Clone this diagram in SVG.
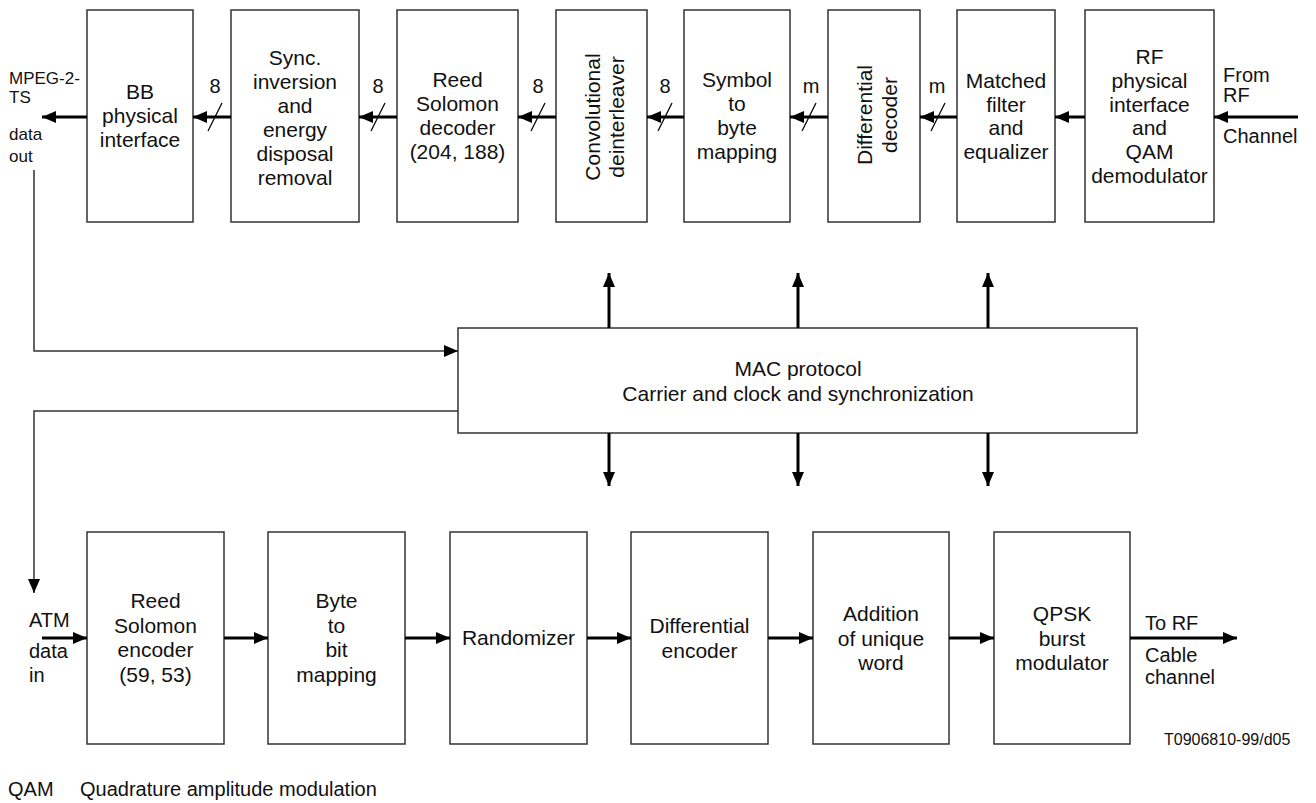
<svg xmlns="http://www.w3.org/2000/svg" width="1316" height="803" viewBox="0 0 1316 803">
<defs>
<marker id="ah" markerUnits="userSpaceOnUse" markerWidth="14" markerHeight="12" refX="14" refY="6" orient="auto">
<path d="M0,0 L14,6 L0,12 z" fill="#000"/>
</marker>
<style>
.box{fill:#fff;stroke:#333;stroke-width:1.5}
.t{font-family:"Liberation Sans",Arial,sans-serif;font-size:21px;fill:#111;text-anchor:middle}
.s{font-family:"Liberation Sans",Arial,sans-serif;font-size:17px;fill:#111}
.l{font-family:"Liberation Sans",Arial,sans-serif;font-size:20px;fill:#111}
.n{font-family:"Liberation Sans",Arial,sans-serif;font-size:20px;fill:#111;text-anchor:middle}
.a{stroke:#000;stroke-width:3;fill:none;marker-end:url(#ah)}
.w{stroke:#333;stroke-width:1.5;fill:none}
.wa{stroke:#333;stroke-width:1.5;fill:none;marker-end:url(#ah)}
.sl{stroke:#000;stroke-width:1.3}
</style>
</defs>
<rect width="1316" height="803" fill="#fff"/>

<g id="bb"><rect class="box" x="87" y="10" width="106" height="212"/>
<text class="t" x="140" y="99">BB</text><text class="t" x="140" y="123">physical</text><text class="t" x="140" y="147">interface</text></g>

<g id="sync"><rect class="box" x="231" y="10" width="128" height="212"/>
<text class="t" x="295" y="65">Sync.</text><text class="t" x="295" y="89">inversion</text><text class="t" x="295" y="113">and</text><text class="t" x="295" y="137">energy</text><text class="t" x="295" y="161">disposal</text><text class="t" x="295" y="185">removal</text></g>

<g id="rsdec"><rect class="box" x="397" y="10" width="121" height="212"/>
<text class="t" x="457.5" y="87">Reed</text><text class="t" x="457.5" y="111">Solomon</text><text class="t" x="457.5" y="135">decoder</text><text class="t" x="457.5" y="159">(204, 188)</text></g>

<g id="conv"><rect class="box" x="556" y="10" width="91" height="212"/>
<text class="t" transform="translate(600,117) rotate(-90)">Convolutional</text>
<text class="t" transform="translate(624,117) rotate(-90)">deinterleaver</text></g>

<g id="symbol"><rect class="box" x="684" y="10" width="106" height="212"/>
<text class="t" x="737" y="87">Symbol</text><text class="t" x="737" y="111">to</text><text class="t" x="737" y="135">byte</text><text class="t" x="737" y="159">mapping</text></g>

<g id="diffdec"><rect class="box" x="828" y="10" width="92" height="212"/>
<text class="t" transform="translate(872,115) rotate(-90)">Differential</text>
<text class="t" transform="translate(897,115) rotate(-90)">decoder</text></g>

<g id="matched"><rect class="box" x="957" y="10" width="98" height="212"/>
<text class="t" x="1006" y="88">Matched</text><text class="t" x="1006" y="112">filter</text><text class="t" x="1006" y="135">and</text><text class="t" x="1006" y="159">equalizer</text></g>

<g id="rf"><rect class="box" x="1085" y="10" width="129" height="212"/>
<text class="t" x="1149.5" y="64">RF</text><text class="t" x="1149.5" y="88">physical</text><text class="t" x="1149.5" y="112">interface</text><text class="t" x="1149.5" y="135">and</text><text class="t" x="1149.5" y="159">QAM</text><text class="t" x="1149.5" y="183">demodulator</text></g>

<g id="mac"><rect class="box" x="458" y="328" width="679" height="105"/>
<text class="t" x="798" y="376">MAC protocol</text><text class="t" x="798" y="401">Carrier and clock and synchronization</text></g>

<g id="rsenc"><rect class="box" x="87" y="532" width="137" height="212"/>
<text class="t" x="155.5" y="608">Reed</text><text class="t" x="155.5" y="633">Solomon</text><text class="t" x="155.5" y="657">encoder</text><text class="t" x="155.5" y="682">(59, 53)</text></g>

<g id="bytebit"><rect class="box" x="268" y="532" width="137" height="212"/>
<text class="t" x="336.5" y="608">Byte</text><text class="t" x="336.5" y="633">to</text><text class="t" x="336.5" y="657">bit</text><text class="t" x="336.5" y="682">mapping</text></g>

<g id="rand"><rect class="box" x="450" y="532" width="137" height="212"/>
<text class="t" x="518.5" y="645">Randomizer</text></g>

<g id="diffenc"><rect class="box" x="631" y="532" width="137" height="212"/>
<text class="t" x="699.5" y="633">Differential</text><text class="t" x="699.5" y="658">encoder</text></g>

<g id="addition"><rect class="box" x="813" y="532" width="136" height="212"/>
<text class="t" x="881" y="621">Addition</text><text class="t" x="881" y="646">of unique</text><text class="t" x="881" y="670">word</text></g>

<g id="qpsk"><rect class="box" x="994" y="532" width="136" height="212"/>
<text class="t" x="1062" y="621">QPSK</text><text class="t" x="1062" y="646">burst</text><text class="t" x="1062" y="670">modulator</text></g>

<g id="connectors">
<line class="a" x1="87" y1="117" x2="42" y2="117"/>
<line class="a" x1="231" y1="117" x2="193" y2="117"/>
<line class="a" x1="397" y1="117" x2="359" y2="117"/>
<line class="a" x1="556" y1="117" x2="518" y2="117"/>
<line class="a" x1="684" y1="117" x2="647" y2="117"/>
<line class="a" x1="828" y1="117" x2="790" y2="117"/>
<line class="a" x1="957" y1="117" x2="920" y2="117"/>
<line class="a" x1="1085" y1="117" x2="1055" y2="117"/>
<line class="a" x1="1298" y1="117" x2="1214" y2="117"/>
<line class="sl" x1="208" y1="131" x2="222" y2="103"/>
<line class="sl" x1="371" y1="131" x2="385" y2="103"/>
<line class="sl" x1="531" y1="131" x2="545" y2="103"/>
<line class="sl" x1="658" y1="131" x2="672" y2="103"/>
<line class="sl" x1="802" y1="131" x2="816" y2="103"/>
<line class="sl" x1="931" y1="131" x2="945" y2="103"/>
<polyline class="wa" points="34,170 34,351 458,351"/>
<polyline class="wa" points="458,411 34,411 34,593"/>
<line class="a" x1="609" y1="328" x2="609" y2="273"/>
<line class="a" x1="798" y1="328" x2="798" y2="273"/>
<line class="a" x1="988" y1="328" x2="988" y2="273"/>
<line class="a" x1="609" y1="433" x2="609" y2="486"/>
<line class="a" x1="798" y1="433" x2="798" y2="486"/>
<line class="a" x1="988" y1="433" x2="988" y2="486"/>
<line class="a" x1="42" y1="638" x2="87" y2="638"/>
<line class="a" x1="224" y1="638" x2="268" y2="638"/>
<line class="a" x1="405" y1="638" x2="450" y2="638"/>
<line class="a" x1="587" y1="638" x2="631" y2="638"/>
<line class="a" x1="768" y1="638" x2="813" y2="638"/>
<line class="a" x1="949" y1="638" x2="994" y2="638"/>
<line class="a" x1="1130" y1="638" x2="1237" y2="638"/>
</g>

<g id="labels">
<text class="n" x="215" y="93">8</text>
<text class="n" x="378" y="93">8</text>
<text class="n" x="538" y="93">8</text>
<text class="n" x="665" y="93">8</text>
<text class="n" x="811" y="93">m</text>
<text class="n" x="937" y="93">m</text>
<text class="s" x="9" y="84">MPEG-2-</text>
<text class="s" x="9" y="103">TS</text>
<text class="s" x="9" y="140">data</text>
<text class="s" x="9" y="162">out</text>
<text class="l" x="1223" y="82">From</text>
<text class="l" x="1223" y="102">RF</text>
<text class="l" x="1223" y="143">Channel</text>
<text class="l" x="29" y="627">ATM</text>
<text class="l" x="29" y="658">data</text>
<text class="l" x="29" y="682">in</text>
<text class="l" x="1145" y="630">To RF</text>
<text class="l" x="1145" y="662">Cable</text>
<text class="l" x="1145" y="684">channel</text>
<text x="1164" y="745" style="font-family:'Liberation Sans',Arial,sans-serif;font-size:16px;fill:#111">T0906810-99/d05</text>
<text class="l" x="8" y="796">QAM</text>
<text class="l" x="80" y="796">Quadrature amplitude modulation</text>
</g>
</svg>
